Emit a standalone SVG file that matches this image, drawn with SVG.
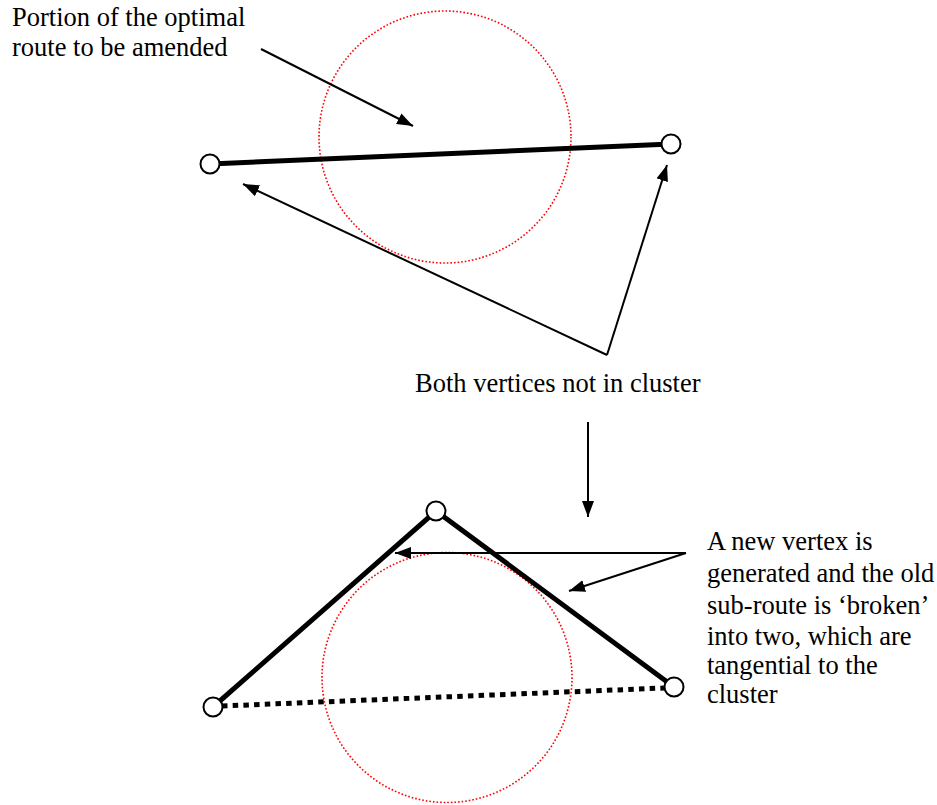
<svg xmlns="http://www.w3.org/2000/svg" width="937" height="805" viewBox="0 0 937 805">
<style>
.t{font-family:"Liberation Serif","Times New Roman",serif;font-size:26.5px;fill:#000}
.cl{fill:none;stroke:#ff0000;stroke-width:1.6;stroke-dasharray:1.6 2}
.rt{stroke:#000;stroke-width:5;fill:none}
.dt{stroke:#000;stroke-width:5;fill:none;stroke-dasharray:5.5 5.2}
.ar{stroke:#000;stroke-width:2;fill:none;marker-end:url(#ah)}
.nd{fill:#fff;stroke:#000;stroke-width:2}
</style>
<defs>
<marker id="ah" markerUnits="userSpaceOnUse" markerWidth="17" markerHeight="13" refX="16" refY="6" orient="auto">
<path d="M0,0 L16,6 L0,12 z" fill="#000"/>
</marker>
</defs>
<rect width="937" height="805" fill="#fff"/>
<g id="clusters">
<circle class="cl" cx="445" cy="137" r="126"/>
<circle class="cl" cx="447" cy="677.5" r="125"/>
</g>
<g id="routes">
<line class="rt" x1="210" y1="164" x2="671" y2="144"/>
<polyline class="rt" points="213,707 436,511 674,687"/>
<line class="dt" x1="222" y1="706" x2="664" y2="688"/>
</g>
<g id="connectors">
<line class="ar" x1="261" y1="49" x2="413" y2="126"/>
<line class="ar" x1="607" y1="355" x2="243" y2="184"/>
<line class="ar" x1="607" y1="355" x2="667" y2="165"/>
<line class="ar" x1="588" y1="422" x2="588" y2="517"/>
<line class="ar" x1="686" y1="553" x2="395" y2="553"/>
<line class="ar" x1="686" y1="553" x2="569" y2="591"/>
</g>
<g id="node-top-left"><circle class="nd" cx="210" cy="164" r="9.5"/></g>
<g id="node-top-right"><circle class="nd" cx="671" cy="144" r="9.5"/></g>
<g id="node-new"><circle class="nd" cx="436" cy="511" r="9.5"/></g>
<g id="node-bottom-left"><circle class="nd" cx="213" cy="707" r="9.5"/></g>
<g id="node-bottom-right"><circle class="nd" cx="674" cy="687" r="9.5"/></g>
<g id="labels">
<text class="t" x="12" y="26">Portion of the optimal</text>
<text class="t" x="12" y="56">route to be amended</text>
<text class="t" x="415" y="392">Both vertices not in cluster</text>
<text class="t" x="707" y="550">A new vertex is</text>
<text class="t" x="707" y="582">generated and the old</text>
<text class="t" x="707" y="614">sub-route is ‘broken’</text>
<text class="t" x="707" y="645">into two, which are</text>
<text class="t" x="707" y="674">tangential to the</text>
<text class="t" x="707" y="703">cluster</text>
</g>
</svg>
